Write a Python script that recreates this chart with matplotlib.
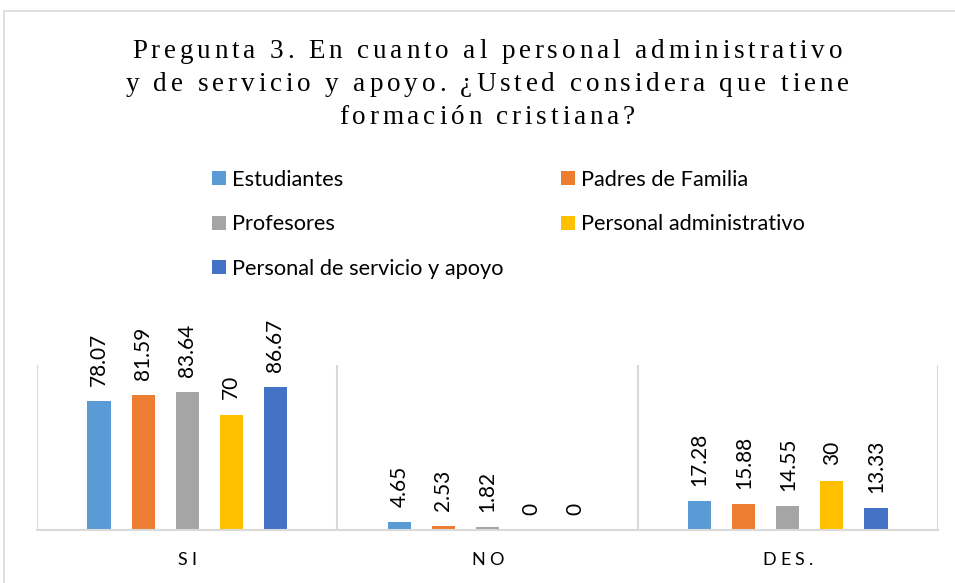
import matplotlib
matplotlib.use('Agg')
import matplotlib.pyplot as plt
from matplotlib.font_manager import FontProperties
from matplotlib.patches import Rectangle
import numpy as np

# data
categorias = ['SI', 'NO', 'DES.']
series = ['Estudiantes', 'Padres de Familia', 'Profesores',
          'Personal administrativo', 'Personal de servicio y apoyo']
estudiantes = [78.07, 4.65, 17.28]
padres = [81.59, 2.53, 15.88]
profesores = [83.64, 1.82, 14.55]
administrativo = [70, 0, 30]
servicio = [86.67, 0, 13.33]
valores = [estudiantes, padres, profesores, administrativo, servicio]
colores = ['#5B9BD5', '#ED7D31', '#A5A5A5', '#FFC000', '#4472C4']
titulo = ['Pregunta 3. En cuanto al personal administrativo',
          'y de servicio y apoyo. ¿Usted considera que tiene',
          'formación cristiana?']

W, H = 955, 583
fig = plt.figure(figsize=(W / 100, H / 100), dpi=100)
fig.patch.set_facecolor('white')

# outer chart border (cut at right and bottom like the screenshot)
fig.patches.append(Rectangle((4 / W, -0.1), 1.2, 572 / H + 0.1, transform=fig.transFigure,
                             fill=False, edgecolor='#D9D9D9', lw=1.2))

ax = fig.add_axes([37 / W, 53 / H, 901 / W, 165 / H])
x = np.arange(len(categorias))
ancho = 0.077
paso = 0.1467
barras = []
for i, (vals, col) in enumerate(zip(valores, colores)):
    b = ax.bar(x + (i - 2) * paso, vals, ancho, color=col, label=series[i])
    barras.append(b)
    ax.bar_label(b, fmt='{:g}', rotation=90, padding=11,
                 fontsize=15, family='Lato', color='#000000')

ax.set_xlim(-0.5, 2.5)
ax.set_ylim(0, 100)
ax.set_yticks([])
ax.set_xticks(x)
ax.set_xticklabels([])
ax.tick_params(axis='x', length=0)
ax.set_xticks(np.arange(-0.5, 3, 1), minor=True)
ax.tick_params(axis='x', which='minor', length=0)
ax.grid(True, which='minor', axis='x', color='#D9D9D9', lw=1.5)
for s in ['left', 'right', 'top']:
    ax.spines[s].set_visible(False)
ax.spines['bottom'].set_color('#D9D9D9')
ax.spines['bottom'].set_linewidth(1.5)

# legend, filled column by column
orden = [0, 2, 4, 1, 3]
fig.legend([barras[k] for k in orden], [series[k] for k in orden],
           loc='upper left', bbox_to_anchor=(212 / W, 1 - 170 / H), ncol=2,
           frameon=False, prop=FontProperties(family='Lato', size=15.7),
           handlelength=0.62, handleheight=0.62, handletextpad=0.3,
           columnspacing=2.65, labelspacing=1.12, borderpad=0, borderaxespad=0)

renderer = fig.canvas.get_renderer()


def avance(c, fp):
    w1 = renderer.get_text_width_height_descent('|' + c + '|', fp, ismath=False)[0]
    w0 = renderer.get_text_width_height_descent('||', fp, ismath=False)[0]
    return w1 - w0


def texto_espaciado(s, xc, y, fp, track, color='black'):
    # y: baseline in pixels from top
    anchos = [avance(c, fp) for c in s]
    total = sum(anchos) + track * (len(s) - 1)
    xx = xc - total / 2
    for c, w in zip(s, anchos):
        fig.text(xx / W, 1 - y / H, c, fontproperties=fp, ha='left', va='baseline', color=color)
        xx += w + track


fp_titulo = FontProperties(family='Liberation Serif', size=19.5)
for k, linea in enumerate(titulo):
    texto_espaciado(linea, 487, 58 + 33 * k, fp_titulo, 3.9)

fp_cat = FontProperties(family='Lato', size=13)
for i, cat in enumerate(categorias):
    xc = ax.transData.transform((i, 0))[0]
    texto_espaciado(cat, xc, 565, fp_cat, 4)

fig.savefig('out.png', dpi=100)
